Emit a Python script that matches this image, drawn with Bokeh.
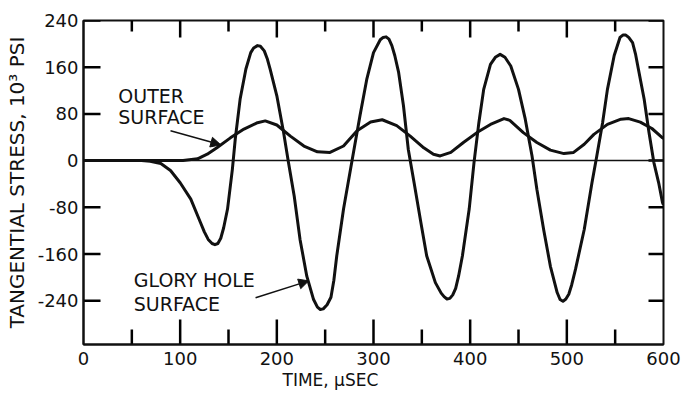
from bokeh.plotting import figure
from bokeh.models import (Range1d, FixedTicker, Span, Label, Arrow, NormalHead, Title)
from bokeh.embed import file_html
from bokeh.resources import INLINE

# ---- data (time in microseconds, stress in 10^3 psi) ----
glory_t = [0, 20, 40, 60, 69, 80, 90, 100, 111, 121, 125, 129, 133, 136, 139, 142, 145,
           149, 154, 157, 162, 168, 173, 176, 180, 183, 187, 190, 193, 200, 207, 212,
           218, 224, 231, 238, 242, 245, 248, 252, 256, 259, 262, 269, 278, 286, 293,
           300, 307, 310, 313, 316, 319, 322, 326, 331, 336, 342, 349, 355, 364, 370,
           373, 376, 379, 382, 385, 388, 392, 399, 404, 409, 414, 421, 426, 431, 436,
           442, 450, 457, 464, 469, 476, 483, 490, 493, 496, 499, 502, 505, 509, 518,
           526, 531, 537, 542, 549, 555, 558, 561, 564, 568, 571, 574, 580, 585, 590,
           595, 599, 600]
glory_v = [0, 0, 0, 0, -1, -5, -17, -38, -66, -106, -122, -135, -142, -144, -142, -133,
           -115, -83, -15, 37, 105, 157, 185, 193, 197, 196, 188, 175, 157, 111, 48, -3,
           -61, -135, -198, -238, -251, -255, -254, -247, -234, -205, -163, -83, 2, 77,
           139, 185, 207, 211, 212, 208, 197, 180, 151, 94, 19, -38, -106, -163, -209,
           -227, -233, -237, -236, -230, -219, -198, -163, -83, -3, 65, 122, 165, 177,
           182, 177, 162, 122, 71, 8, -49, -118, -181, -226, -238, -241, -237, -229,
           -213, -186, -118, -38, 8, 65, 122, 180, 211, 215, 215, 211, 202, 183, 157,
           105, 48, -3, -38, -72, -76]

outer_t = [0, 50, 103, 118, 128, 138, 152, 166, 180, 188, 200, 214, 228, 242, 255,
           269, 283, 297, 309, 324, 338, 352, 362, 369, 380, 393, 407, 421, 435,
           441, 455, 469, 483, 497, 507, 518, 528, 542, 556, 564, 576, 588, 599, 600]
outer_v = [0, 0, 0, 3, 11, 22, 39, 54, 65, 68, 61, 42, 25, 15, 14,
           25, 51, 66, 70, 60, 42, 22, 11, 8, 14, 31, 48, 62, 72,
           69, 48, 31, 18, 12, 14, 28, 45, 62, 71, 72, 66, 55, 39, 38]

x_ticks = [100, 200, 300, 400, 500]
x_minor = [50, 150, 250, 350, 450, 550]
y_ticks = [-240, -160, -80, 0, 80, 160, 240]
y_tick_labels = ["-240", "-160", "-80", "0", "80", "160", "240"]
x_label_ticks = [0, 100, 200, 300, 400, 500, 600]

FONT = "DejaVu Sans"
INK = "#111111"
X0, X1, Y0, Y1 = 0, 600, -315, 240
FW, FH = 580, 324
ux = (X1 - X0) / FW   # data units per pixel
uy = (Y1 - Y0) / FH

p = figure(width=685, height=398, output_backend="svg", toolbar_location=None,
           x_range=Range1d(X0, X1), y_range=Range1d(Y0, Y1),
           min_border_left=83, min_border_right=22, min_border_top=20,
           min_border_bottom=54)
p.grid.visible = False
p.background_fill_color = "white"
p.border_fill_color = "white"
p.outline_line_color = INK
p.outline_line_width = 2

xa = p.xaxis[0]
xa.ticker = FixedTicker(ticks=x_label_ticks)
ya = p.yaxis[0]
ya.ticker = FixedTicker(ticks=y_ticks)
ya.major_label_overrides = {t: s for t, s in zip(y_ticks, y_tick_labels)}
for ax in (xa, ya):
    ax.axis_line_color = INK
    ax.axis_line_width = 2
    ax.major_tick_in = 0
    ax.major_tick_out = 0
    ax.minor_tick_in = 0
    ax.minor_tick_out = 0
    ax.major_label_text_font = FONT
    ax.major_label_text_font_size = "18px"
    ax.major_label_text_color = INK
xa.major_label_standoff = 7
ya.major_label_standoff = 5
ya.axis_label = "TANGENTIAL STRESS, 10\u00b3 PSI"
ya.axis_label_text_font = FONT
ya.axis_label_text_font_size = "20px"
ya.axis_label_text_font_style = "normal"
ya.axis_label_text_color = INK
ya.axis_label_standoff = 6

p.add_layout(Title(text="TIME, \u03bcSEC", align="left", offset=199,
                   text_font=FONT, text_font_size="17px", text_font_style="normal",
                   text_color=INK, standoff=0), "below")

# inward tick marks on all four sides
bx, by, tx, ty, lx, ly, rx, ry = [], [], [], [], [], [], [], []
for t in x_ticks:
    bx.append([t, t]); by.append([Y0, Y0 + 25 * uy])
    tx.append([t, t]); ty.append([Y1, Y1 - 17 * uy])
for t in x_minor:
    bx.append([t, t]); by.append([Y0, Y0 + 15 * uy])
    tx.append([t, t]); ty.append([Y1, Y1 - 11 * uy])
for v in y_ticks:
    lx.append([X0, X0 + 17 * ux]); ly.append([v, v])
    rx.append([X1, X1 - 15 * ux]); ry.append([v, v])
for xs, ys in ((bx, by), (tx, ty), (lx, ly), (rx, ry)):
    for a, b in zip(xs, ys):
        p.line(a, b, line_color="black", line_width=2.5)

# zero line
p.add_layout(Span(location=0, dimension="width", line_color=INK, line_width=1.5))

# curves
p.line(glory_t, glory_v, line_color=INK, line_width=3, line_join="round")
p.line(outer_t, outer_v, line_color=INK, line_width=3, line_join="round")

def lab(x, y, text, size="19px"):
    p.add_layout(Label(x=x, y=y, text=text, text_font=FONT, text_font_size=size,
                       text_color=INK, text_align="left", text_baseline="middle"))

lab(36, 110, "OUTER")
lab(36, 74, "SURFACE")
lab(52, -205, "GLORY HOLE")
lab(52, -246, "SURFACE")

p.add_layout(Arrow(x_start=90, y_start=51, x_end=142, y_end=27,
                   line_color=INK, line_width=1.5,
                   end=NormalHead(size=10, fill_color=INK, line_color=INK)))
p.add_layout(Arrow(x_start=178, y_start=-235, x_end=233, y_end=-206,
                   line_color=INK, line_width=1.5,
                   end=NormalHead(size=10, fill_color=INK, line_color=INK)))

open("out.html", "w").write(file_html(p, INLINE))
